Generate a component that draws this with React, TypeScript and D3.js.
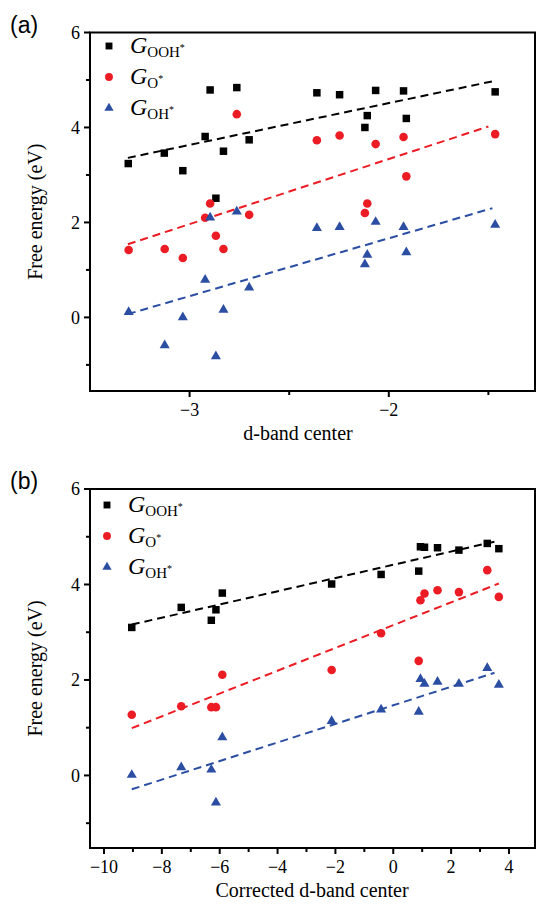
import React from "react";
import * as d3 from "d3";

// ---------- Panel (a) data: d-band center ----------
const aOOHx = [-3.308, -3.127, -3.034, -2.922, -2.897, -2.868, -2.830, -2.763, -2.701, -2.361, -2.247, -2.066, -2.108, -2.120, -1.926, -1.912, -1.466];
const aOOHy = [3.24, 3.46, 3.09, 3.81, 4.79, 2.51, 3.50, 4.84, 3.74, 4.73, 4.69, 4.78, 4.25, 4.00, 4.77, 4.19, 4.75];
const aOx = [-3.306, -3.125, -3.034, -2.922, -2.897, -2.868, -2.830, -2.763, -2.701, -2.361, -2.247, -2.066, -1.926, -1.912, -2.108, -2.120, -1.466];
const aOy = [1.42, 1.44, 1.25, 2.10, 2.40, 1.72, 1.44, 4.28, 2.16, 3.73, 3.83, 3.65, 3.80, 2.97, 2.40, 2.20, 3.86];
const aOHx = [-3.306, -3.125, -3.034, -2.922, -2.897, -2.868, -2.830, -2.763, -2.701, -2.361, -2.247, -2.066, -1.926, -1.912, -2.108, -2.120, -1.466];
const aOHy = [0.11, -0.59, 0.0, 0.79, 2.10, -0.82, 0.16, 2.23, 0.63, 1.88, 1.90, 2.01, 1.90, 1.37, 1.32, 1.12, 1.95];
// fitted lines [x0, y0, x1, y1]
const aFitOOH = [-3.31, 3.36, -1.47, 4.98];
const aFitO = [-3.31, 1.54, -1.50, 4.02];
const aFitOH = [-3.31, 0.07, -1.48, 2.30];

// ---------- Panel (b) data: corrected d-band center ----------
const bOOHx = [-9.04, -7.33, -6.29, -6.13, -5.91, -2.13, -0.42, 0.88, 0.94, 1.08, 1.53, 2.27, 3.25, 3.65];
const bOOHy = [3.10, 3.52, 3.25, 3.47, 3.82, 4.01, 4.21, 4.28, 4.79, 4.78, 4.77, 4.72, 4.86, 4.75];
const bOx = [-9.04, -7.33, -6.29, -6.13, -5.91, -2.13, -0.42, 0.88, 0.94, 1.08, 1.53, 2.27, 3.25, 3.65];
const bOy = [1.27, 1.45, 1.43, 1.43, 2.11, 2.21, 2.98, 2.40, 3.67, 3.81, 3.88, 3.84, 4.30, 3.74];
const bOHx = [-9.04, -7.33, -6.29, -6.13, -5.91, -2.13, -0.42, 0.88, 0.94, 1.08, 1.53, 2.27, 3.25, 3.65];
const bOHy = [0.01, 0.17, 0.12, -0.57, 0.80, 1.14, 1.38, 1.33, 2.02, 1.92, 1.96, 1.92, 2.25, 1.90];
const bFitOOH = [-9.04, 3.16, 3.59, 4.91];
const bFitO = [-9.04, 0.99, 3.65, 4.02];
const bFitOH = [-9.04, -0.29, 3.50, 2.15];

// ---------- Ticks ----------
const yMajor = [0, 2, 4, 6];
const yMinor = [-1, 1, 3, 5];
const aXMajor = [-3, -2];
const aXMinor = [-2.5, -1.5];
const bXMajor = [-10, -8, -6, -4, -2, 0, 2, 4];
const bXMinor = [-9, -7, -5, -3, -1, 1, 3];

const legendSubs = ["OOH", "O", "OH"];

const BLACK = "#000000";
const RED = "#ec1c24";
const BLUE = "#2b4ea3";

type Series = { xs: number[]; ys: number[]; fit: number[]; color: string; shape: d3.SymbolType; size: number };

type PanelProps = {
  label: string;
  top: number;
  bottom: number;
  xDomain: [number, number];
  yDomain: [number, number];
  xMajor: number[];
  xMinor: number[];
  xTitle: string;
  xTitleX: number;
  series: Series[];
  legendY: number;
  legendX: number;
};

const fmt = (v: number) => (v < 0 ? "\u2212" + Math.abs(v) : String(v));

function Panel(p: PanelProps) {
  const left = 90;
  const right = 535;
  const x = d3.scaleLinear().domain(p.xDomain).range([left, right]);
  const y = d3.scaleLinear().domain(p.yDomain).range([p.bottom, p.top]);
  const serif = "'Liberation Serif', 'Times New Roman', serif";
  return (
    <g>
      <text x={10} y={p.top} fontFamily="'Liberation Sans', Arial, sans-serif" fontSize={23}>
        {p.label}
      </text>
      {/* fit lines */}
      {p.series.map((s, i) => (
        <line
          key={"f" + i}
          x1={x(s.fit[0])}
          y1={y(s.fit[1])}
          x2={x(s.fit[2])}
          y2={y(s.fit[3])}
          stroke={s.color}
          strokeWidth={2}
          strokeDasharray="8,5"
        />
      ))}
      {/* points */}
      {p.series.map((s, i) =>
        s.xs.map((xv, j) => (
          <path
            key={"p" + i + "-" + j}
            d={d3.symbol().type(s.shape).size(s.size)()!}
            transform={`translate(${x(xv)},${y(s.ys[j])})`}
            fill={s.color}
          />
        ))
      )}
      {/* frame */}
      <rect x={left} y={p.top} width={right - left} height={p.bottom - p.top} fill="none" stroke="#000" strokeWidth={2} />
      {/* y ticks */}
      {yMajor.map((v) => (
        <g key={"ym" + v}>
          <line x1={left - 6} x2={left} y1={y(v)} y2={y(v)} stroke="#000" strokeWidth={2} />
          <text x={left - 10} y={y(v)} dy="0.35em" textAnchor="end" fontFamily={serif} fontSize={18}>
            {fmt(v)}
          </text>
        </g>
      ))}
      {yMinor.map((v) => (
        <line key={"yn" + v} x1={left - 4} x2={left} y1={y(v)} y2={y(v)} stroke="#000" strokeWidth={2} />
      ))}
      {/* x ticks */}
      {p.xMajor.map((v) => (
        <g key={"xm" + v}>
          <line x1={x(v)} x2={x(v)} y1={p.bottom} y2={p.bottom + 6} stroke="#000" strokeWidth={2} />
          <text x={x(v)} y={p.bottom + 25} textAnchor="middle" fontFamily={serif} fontSize={18}>
            {fmt(v)}
          </text>
        </g>
      ))}
      {p.xMinor.map((v) => (
        <line key={"xn" + v} x1={x(v)} x2={x(v)} y1={p.bottom} y2={p.bottom + 4} stroke="#000" strokeWidth={2} />
      ))}
      {/* axis titles */}
      <text x={p.xTitleX} y={p.bottom + 49} textAnchor="middle" fontFamily={serif} fontSize={20}>
        {p.xTitle}
      </text>
      <text
        transform={`translate(42,${(p.top + p.bottom) / 2}) rotate(-90)`}
        textAnchor="middle"
        fontFamily={serif}
        fontSize={20}
      >
        Free energy (eV)
      </text>
      {/* legend */}
      {p.series.map((s, i) => {
        const ly = p.legendY + i * 31;
        return (
          <g key={"l" + i}>
            <path d={d3.symbol().type(s.shape).size(s.size * 0.85)()!} transform={`translate(${p.legendX},${ly})`} fill={s.color} />
            <text x={p.legendX + 21} y={ly + 7} fontFamily={serif} fontSize={24}>
              <tspan fontStyle="italic">G</tspan>
              <tspan fontSize={15} dy={4}>{legendSubs[i]}</tspan>
              <tspan fontSize={10} dy={-6}>*</tspan>
            </text>
          </g>
        );
      })}
    </g>
  );
}

export default function App() {
  const seriesA: Series[] = [
    { xs: aOOHx, ys: aOOHy, fit: aFitOOH, color: BLACK, shape: d3.symbolSquare, size: 56 },
    { xs: aOx, ys: aOy, fit: aFitO, color: RED, shape: d3.symbolCircle, size: 58 },
    { xs: aOHx, ys: aOHy, fit: aFitOH, color: BLUE, shape: d3.symbolTriangle, size: 44 },
  ];
  const seriesB: Series[] = [
    { xs: bOOHx, ys: bOOHy, fit: bFitOOH, color: BLACK, shape: d3.symbolSquare, size: 56 },
    { xs: bOx, ys: bOy, fit: bFitO, color: RED, shape: d3.symbolCircle, size: 58 },
    { xs: bOHx, ys: bOHy, fit: bFitOH, color: BLUE, shape: d3.symbolTriangle, size: 44 },
  ];
  return (
    <svg width={536} height={907} style={{ position: "absolute", left: 0, top: 0, background: "#fff" }}>
      <Panel
        label="(a)"
        top={32.5}
        bottom={391}
        xDomain={[-3.5, -1.266]}
        yDomain={[-1.55, 6]}
        xMajor={aXMajor}
        xMinor={aXMinor}
        xTitle="d-band center"
        xTitleX={298}
        series={seriesA}
        legendX={109}
        legendY={46}
      />
      <Panel
        label="(b)"
        top={489}
        bottom={848}
        xDomain={[-10.484, 4.9]}
        yDomain={[-1.52, 6]}
        xMajor={bXMajor}
        xMinor={bXMinor}
        xTitle="Corrected d-band center"
        xTitleX={312}
        series={seriesB}
        legendX={107}
        legendY={505}
      />
    </svg>
  );
}
